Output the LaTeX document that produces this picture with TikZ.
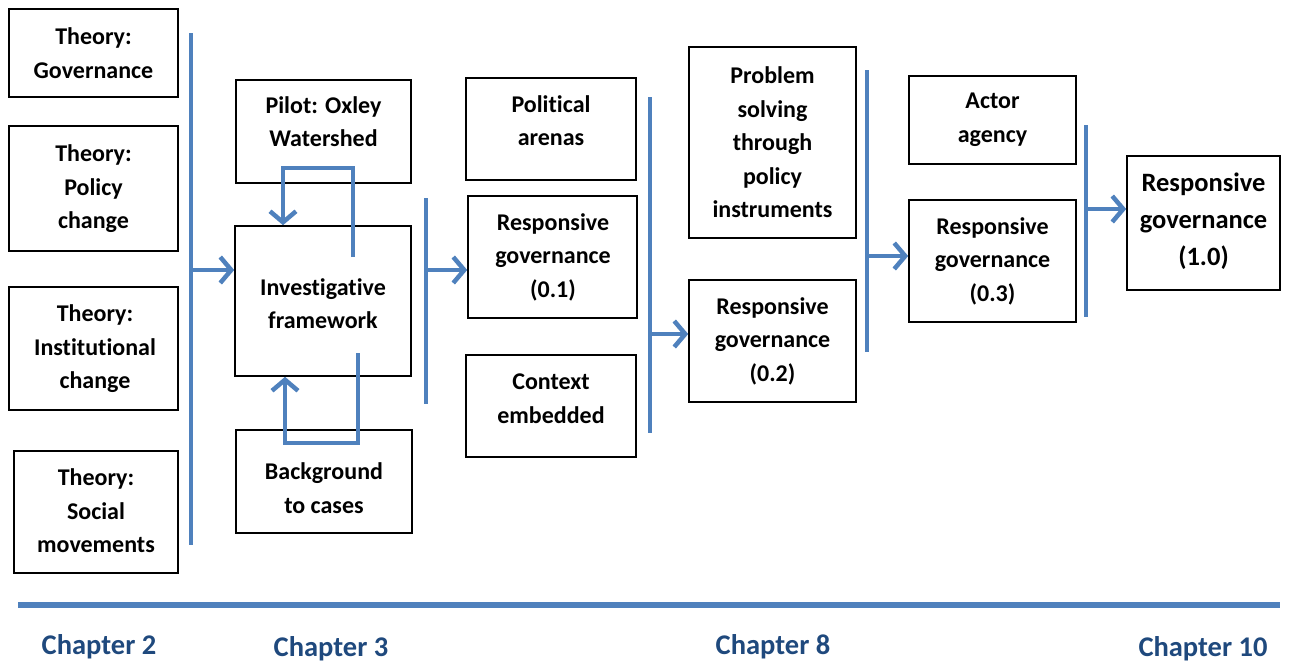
\documentclass[tikz,border=0pt]{standalone}
\usepackage{fontspec}
\setmainfont{Carlito}[Ligatures=NoCommon]
\usetikzlibrary{arrows.meta}
\definecolor{flowblue}{HTML}{4F81BD}
\definecolor{chapblue}{HTML}{1F497D}
\begin{document}
\begin{tikzpicture}[x=1pt,y=-1pt,
  box/.style={draw=black, line width=1.6pt, inner sep=0pt},
  txt/.style={align=center, font=\bfseries\fontsize{24}{33.5}\selectfont, inner sep=0pt},
  bigtxt/.style={align=center, font=\bfseries\fontsize{26.5}{37}\selectfont, inner sep=0pt},
  chap/.style={font=\bfseries\fontsize{28.5}{32}\selectfont, text=chapblue, inner sep=0pt},
  flow/.style={draw=flowblue, line width=4.5pt},
  arr/.style={flow, -{Straight Barb[length=11pt,width=26pt,line width=4.5pt]}}
]
\useasboundingbox (0,0) rectangle (1309,662);

% --- boxes: corners in picture units
\newcommand{\boxat}[5]{\node[box, minimum width=#3-#1, minimum height=#4-#2] (#5) at ({(#1+#3)/2},{(#2+#4)/2}) {};}

% Chapter 2: theories
\boxat{9}{9}{178}{97}{gov}
\boxat{9}{126}{178}{251}{pol}
\boxat{9}{287}{178}{410}{inst}
\boxat{14}{451}{178}{573}{soc}
\node[txt] (gov-t) at (93.5,53) {Theory:\\Governance};
\node[txt] (pol-t) at (93.5,189) {Theory:\\Policy\\change};
\node[txt] (inst-t) at (95,349) {Theory:\\Institutional\\change};
\node[txt] (soc-t) at (96,511) {Theory:\\Social\\movements};

% Chapter 3
\boxat{236}{80}{411}{183}{pilot}
\boxat{235}{226}{411}{376}{inv}
\boxat{236}{430}{412}{533}{back}
\node[txt] (pilot-t) at (323.5,121.5) {Pilot: Oxley\\Watershed};
\node[txt] (inv-t) at (323,303.5) {Investigative\\framework};
\node[txt] (back-t) at (324,488) {Background\\to cases};

% second column
\boxat{466}{78}{636}{180}{arena}
\boxat{468}{196}{637}{318}{rg1}
\boxat{466}{355}{636}{457}{ctx}
\node[txt] (arena-t) at (551,120.5) {Political\\arenas};
\node[txt] (rg1-t) at (553,257) {Responsive\\governance\\(0.1)};
\node[txt] (ctx-t) at (551,398.5) {Context\\embedded};

% Chapter 8
\boxat{689}{47}{856}{238}{prob}
\boxat{689}{280}{856}{402}{rg2}
\node[txt] (prob-t) at (772.5,142.5) {Problem\\solving\\through\\policy\\instruments};
\node[txt] (rg2-t) at (772.5,341) {Responsive\\governance\\(0.2)};

% fourth column
\boxat{909}{76}{1076}{164}{actor}
\boxat{909}{200}{1076}{322}{rg3}
\node[txt] (actor-t) at (992.5,119.5) {Actor\\agency};
\node[txt] (rg3-t) at (992.5,261) {Responsive\\governance\\(0.3)};

% Chapter 10
\boxat{1127}{156}{1280}{290}{rgf}
\node[bigtxt] (rgf-t) at (1203.5,221) {Responsive\\governance\\(1.0)};

% --- collecting bars and their arrows
\coordinate (bus1t) at (191,33);  \coordinate (bus1b) at (191,545);  \coordinate (bus1a) at (191,270);
\coordinate (bus2t) at (426,198); \coordinate (bus2b) at (426,404);  \coordinate (bus2a) at (426,270);
\coordinate (bus3t) at (650,97);  \coordinate (bus3b) at (650,433);  \coordinate (bus3a) at (650,334);
\coordinate (bus4t) at (867,70);  \coordinate (bus4b) at (867,352);  \coordinate (bus4a) at (867,256);
\coordinate (bus5t) at (1086,125);\coordinate (bus5b) at (1086,317); \coordinate (bus5a) at (1086,209);

\draw[flow] (bus1t) -- (bus1b);
\draw[flow] (bus2t) -- (bus2b);
\draw[flow] (bus3t) -- (bus3b);
\draw[flow] (bus4t) -- (bus4b);
\draw[flow] (bus5t) -- (bus5b);

\draw[arr] (bus1a) -- (bus1a -| inv.west);
\draw[arr] (bus2a) -- (bus2a -| rg1.west);
\draw[arr] (bus3a) -- (bus3a -| rg2.west);
\draw[arr] (bus4a) -- (bus4a -| rg3.west);
\draw[arr] (bus5a) -- (bus5a -| rgf.west);

% --- feedback loops around the investigative framework
\coordinate (loop1s) at (353,257);
\coordinate (loop1c) at (283,168);
\draw[arr, line join=miter] (loop1s) |- (loop1c) -- (loop1c |- inv.north);
\coordinate (loop2s) at (358,353);
\coordinate (loop2c) at (285,443);
\draw[arr, line join=miter] (loop2s) |- (loop2c) -- (loop2c |- inv.south);

% --- timeline
\coordinate (tl-l) at (18,605);
\coordinate (tl-r) at (1280,605);
\draw[draw=flowblue, line width=5.5pt] (tl-l) -- (tl-r);

\node[chap] (ch2) at (99,647) {Chapter 2};
\node[chap] (ch3) at (331,649) {Chapter 3};
\node[chap] (ch8) at (773,647) {Chapter 8};
\node[chap] (ch10) at (1203,649) {Chapter 10};
\end{tikzpicture}
\end{document}
